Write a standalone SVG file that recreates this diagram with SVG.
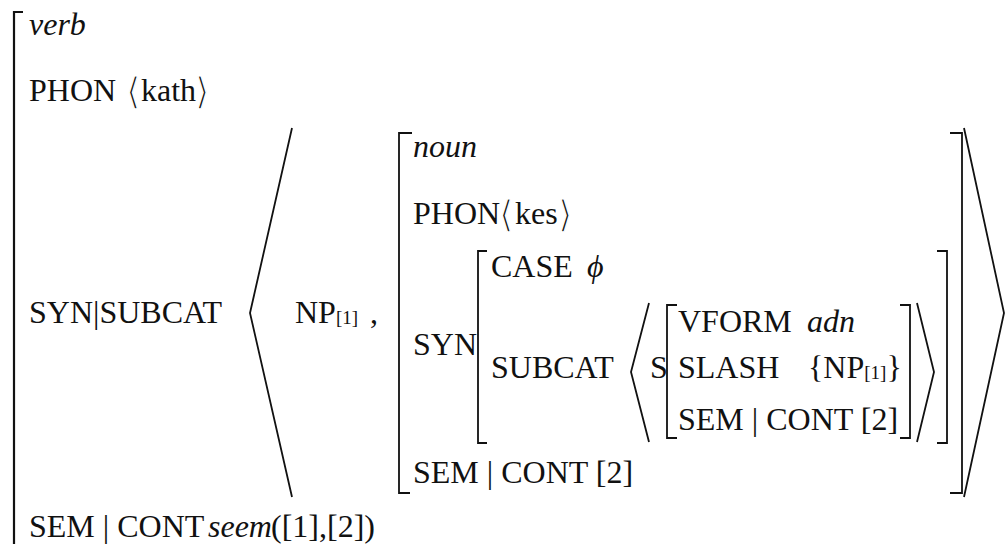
<svg xmlns="http://www.w3.org/2000/svg" width="1006" height="544" viewBox="0 0 1006 544" font-family="Liberation Serif">
  <style>
    text { font-family: 'Liberation Serif', 'Times New Roman', serif; font-size: 32px; fill: #111; }
    .it { font-style: italic; }
    .sub { font-size: 19px; }
    /* delimiters around PHON values, thinned with a light outline */
    .ang { font-family: 'DejaVu Sans', sans-serif; font-size: 37px; stroke: #fff; stroke-width: 1.3; }
    .br { fill: none; stroke: #111; stroke-width: 1.8; stroke-linejoin: miter; }
    .outer { stroke-width: 2.2; }
  </style>
  <rect width="1006" height="544" fill="#fff"/>

  <!-- bracket and angle-bracket strokes -->
  <g id="connectors">
    <!-- outer verb AVM: left bracket -->
    <path class="br outer" d="M 23 12 H 14 V 544"/>
    <!-- SUBCAT list delimiters -->
    <polyline class="br" points="292,128 250,313 292,497"/>
    <polyline class="br" points="964,128 1004,313 964,497"/>
    <!-- noun AVM brackets -->
    <path class="br" d="M 412 133 H 399 V 493 H 410"/>
    <path class="br" d="M 950 133 H 962 V 493 H 950"/>
    <!-- SYN AVM brackets -->
    <path class="br" d="M 487 251 H 478 V 443 H 487"/>
    <path class="br" d="M 937 251 H 947 V 443 H 937"/>
    <!-- inner SUBCAT list delimiters -->
    <polyline class="br" points="649,303 631,372 649,442"/>
    <polyline class="br" points="917,303 934,372 917,442"/>
    <!-- S AVM brackets -->
    <path class="br" d="M 677 305 H 667 V 438 H 677"/>
    <path class="br" d="M 900 305 H 910 V 438 H 900"/>
  </g>

  <!-- top-level verb entry -->
  <g id="verb-avm">
    <text class="it" x="29" y="35">verb</text>
    <text x="29" y="101">PHON</text>
    <text class="ang" x="126" y="104">⟨</text>
    <text x="141" y="101">kath</text>
    <text class="ang" x="195" y="104">⟩</text>
    <text x="29" y="323">SYN|SUBCAT</text>
    <text x="29" y="537">SEM | CONT</text>
    <text class="it" x="208" y="537">seem</text>
    <text x="271" y="537">([1],[2])</text>
  </g>

  <!-- first list element -->
  <g id="np-element">
    <text x="295" y="323">NP<tspan class="sub" dy="1">[1]</tspan></text>
    <text x="370" y="323">,</text>
  </g>

  <!-- second list element: noun entry -->
  <g id="noun-avm">
    <text class="it" x="413" y="157">noun</text>
    <text x="413" y="224">PHON</text>
    <text class="ang" x="499" y="227">⟨</text>
    <text x="515" y="224">kes</text>
    <text class="ang" x="558" y="227">⟩</text>
    <text x="413" y="355">SYN</text>
    <text x="413" y="483">SEM | CONT [2]</text>
  </g>

  <!-- SYN value -->
  <g id="syn-avm">
    <text x="491" y="277">CASE</text>
    <text class="it" x="587" y="277">ϕ</text>
    <text x="491" y="378">SUBCAT</text>
  </g>

  <!-- embedded S entry -->
  <g id="s-avm">
    <text x="650" y="378">S</text>
    <text x="678" y="332">VFORM</text>
    <text class="it" x="807" y="332">adn</text>
    <text x="678" y="378">SLASH</text>
    <text x="808" y="378">{NP<tspan class="sub" dy="1">[1]</tspan><tspan dy="-1">}</tspan></text>
    <text x="678" y="430">SEM | CONT [2]</text>
  </g>
</svg>
